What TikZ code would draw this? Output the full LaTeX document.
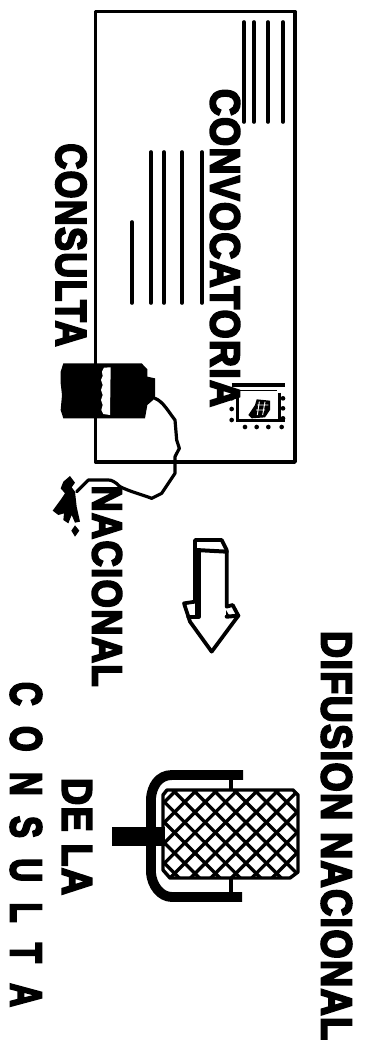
\documentclass[tikz,border=0pt]{standalone}
\usepackage{fontspec}
\usepackage{graphicx}
\newfontfamily\lab[FakeBold=5,LetterSpace=4]{Liberation Sans Bold}
\newlength\px \setlength\px{0.75pt}
% name, centre x, centre y, length along y, height along x, text
\newcommand\rtxt[6]{\node[lbl] (#1) at (#2,#3) {\resizebox{#4\px}{#5\px}{\lab #6}};}
\tikzset{
  lbl/.style={rotate=-90,inner sep=0pt,outer sep=0pt,anchor=center},
  ink/.style={black,line width=2.4pt,line cap=round,line join=round},
  ruleline/.style={black,line width=2.7pt,line cap=round},
  zoomA/.style={shift={(40,330)},x=0.25pt,y=-0.25pt},
  zoomB/.style={shift={(170,360)},x=0.25pt,y=-0.25pt},
  zoomC/.style={shift={(160,500)},x=0.25pt,y=-0.25pt},
  zoomD/.style={shift={(40,460)},x=0.25pt,y=-0.25pt},
  hatchline/.style={black,line width=2.5pt},
}
\begin{document}
\begin{tikzpicture}[x=0.75pt,y=-0.75pt]
\useasboundingbox (0,0) rectangle (372,1052);
\fill[white] (0,0) rectangle (372,1052);
% envelope
\draw[black,line width=2.6pt,line join=round] (95.5,11.5) rectangle (295,462);
% text lines
\foreach \x in {244,254,268,283} \draw[ruleline] (\x,22) -- (\x,122);
\foreach \x in {151,164,182,202} \draw[ruleline] (\x,152) -- (\x,303);
\draw[ruleline] (132,222) -- (132,303);
% labels
\rtxt{conv}{225}{248}{318}{29}{CONVOCATORIA}
\rtxt{cons}{71}{245}{203}{30}{CONSULTA}
\rtxt{naci}{107}{586}{201}{29}{NACIONAL}
\rtxt{difu}{336.5}{835.5}{409}{30}{DIFUSION NACIONAL}
\rtxt{dela}{77}{836.5}{117}{29}{DE LA}
\rtxt{cons2}{26}{844.5}{325}{31}{C\hspace{0.62em}O\hspace{0.62em}N\hspace{0.62em}S\hspace{0.62em}U\hspace{0.62em}L\hspace{0.62em}T\hspace{0.62em}A}
% telephone
\begin{scope}[zoomA]
\fill[black] (70,100) -- (305,100) -- (322,118) -- (322,140) -- (345,145) -- (345,205) -- (322,225) -- (315,265) -- (70,265) -- (62,240) -- (66,195) -- (62,160) -- (62,125) -- cycle;
\fill[white] (186,125) -- (192,113) -- (212,112) -- (210,255) -- (190,252) -- (184,240) -- (188,225) -- (183,210) -- (188,195) -- (183,180) -- (188,165) -- (183,150) -- (188,138) -- cycle;
\draw[ink] (345,205) .. controls (370,215) and (385,245) .. (405,270) -- (410,330) -- (418,355) -- (405,380) -- (405,430) -- (385,460) -- (365,490) -- (335,505) .. controls (310,495) and (270,485) .. (240,470) .. controls (225,455) and (215,450) .. (205,450) -- (145,450) -- (110,485);
\end{scope}
% plug
\begin{scope}[zoomD]
\fill[black] (90,48) -- (105,68) -- (95,82) -- (105,95) -- (110,140) -- (120,185) -- (105,188) -- (95,165) -- (85,190) -- (70,180) -- (72,160) -- (55,165) -- (38,152) -- (65,115) -- (75,100) -- (62,85) -- (70,65) -- cycle;
\fill[black] (105,196) -- (118,212) -- (105,230) -- (94,212) -- cycle;
\end{scope}
% stamp
\begin{scope}[zoomB]
\draw[black,line width=3pt] (185,75) -- (345,75);
\draw[black,line width=1pt] (210,91) -- (320,91);
\draw[black,line width=2.6pt] (202,98) -- (202,182) -- (345,182);
\draw[black,line width=2.2pt] (328,98) -- (328,182);
\foreach \a/\b in {185/115,185/147,185/180,225/201,260/201,295/201,335/201,339/115,339/145,339/175}
  \fill[black] (\a,\b) circle (7);
\fill[black] (245,175) -- (235,165) -- (255,135) -- (260,118) -- (300,122) -- (300,150) -- (285,172) -- cycle;
\draw[white,line width=0.7pt] (262,135) -- (295,135) (258,150) -- (285,150) (268,125) -- (262,165) (285,125) -- (278,165);
\end{scope}
% arrow
\begin{scope}[zoomC]
\draw[ink,line width=2.8pt] (105,120) -- (185,120) -- (200,150) -- (200,320) -- (218,315) -- (235,347) -- (155,455) -- (90,365) -- (72,310) -- (105,305) -- cycle;
\draw[ink,line width=3pt] (108,150) -- (200,155);
\draw[ink,line width=3pt] (116,155) -- (116,350) -- (85,350);
\fill[black] (105,150) rectangle (118,350);
\draw[ink,line width=3pt] (200,350) -- (235,347);
\fill[black] (198,330) -- (210,350) -- (198,352) -- cycle;
\end{scope}
% microphone
\fill[black] (112,827) rectangle (165,846);
\draw[black,line width=7.4pt,line join=round] (243,775) -- (172,775) .. controls (158,775) and (152,787) .. (151,798) -- (151,873) .. controls (152,885) and (160,897) .. (172,897) -- (242,897);
\draw[black,line width=2.6pt] (231,778) -- (231,790) (231,878) -- (231,895);
\begin{scope}
\clip (167,790) -- (293,790) -- (298,795) -- (298,872) -- (290,878) -- (170,878) -- (163,870) -- (163,795) -- cycle;
\foreach \k in {-8,...,14} {
  \draw[hatchline] (112+\k*20.4,770) -- (242+\k*20.4,900);
  \draw[hatchline] (237.2+\k*20.4,770) -- (107.2+\k*20.4,900);
}
\end{scope}
\draw[black,line width=2.6pt,line join=round] (167,790) -- (293,790) -- (298,795) -- (298,872) -- (290,878) -- (170,878) -- (163,870) -- (163,795) -- cycle;
\end{tikzpicture}
\end{document}
